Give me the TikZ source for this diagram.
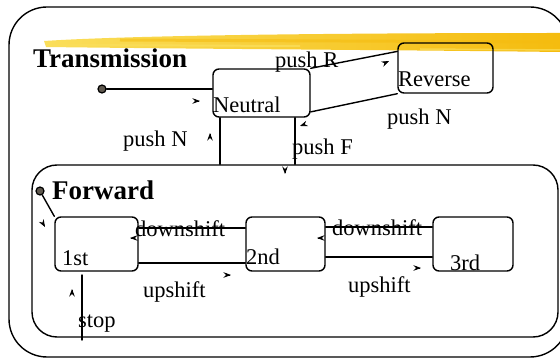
\documentclass[tikz,border=0pt]{standalone}
\usepackage{fontspec}
\setmainfont{Liberation Serif}
\usetikzlibrary{arrows.meta,calc}

\definecolor{brushlight}{RGB}{250,222,90}
\definecolor{brushdeep}{RGB}{245,188,15}
\definecolor{dotfill}{RGB}{95,88,78}

\tikzset{
  x=1pt, y=-1pt,
  line/.style={line width=1.4pt, line cap=round, line join=round},
  statebox/.style={line, draw, rounded corners=6pt, inner sep=0pt},
  lbl/.style={anchor=base west, inner sep=0pt, font=\fontsize{22.5}{26}\selectfont},
  title/.style={anchor=base west, inner sep=0pt, font=\fontsize{27}{30}\selectfont\bfseries},
  barb/.style={line width=0.7pt, -{Stealth[length=7.5pt,width=5.5pt,inset=2.5pt]}},
  startdot/.style={circle, draw, line width=1.2pt, fill=dotfill, minimum size=8pt, inner sep=0pt},
}

% small floating arrowhead: tip position, direction angle (TikZ convention, y up)
\newcommand\tipmark[2]{\draw[barb] (#1) ++(#2+180:1pt) -- (#1);}

\begin{document}
\begin{tikzpicture}
\useasboundingbox (0,0) rectangle (560,358);
\clip (0,0) rectangle (560,358);

% highlighter brush stroke across the top
\shade[left color=brushlight, right color=brushdeep]
  (44,41) .. controls (120,36) and (300,33) .. (560,33)
  -- (560,52) .. controls (400,50) and (200,49) .. (46,47) -- cycle;
\draw[brushdeep, line width=3pt, opacity=0.55] (120,40) -- (560,42);
\draw[brushlight, line width=2pt, opacity=0.8] (60,45) -- (300,46);
\draw[brushlight, line width=1.5pt, opacity=0.7] (420,49) -- (560,50);

% superstate frames
\draw[line, rounded corners=38pt] (9,7) rectangle (568,357);
\node[line, draw, rounded corners=25pt, minimum width=526pt, minimum height=172pt,
      inner sep=0pt] (forward) at (295,251) {};

% states
\node[statebox, minimum width=97pt, minimum height=48pt] (neutral) at (261.5,93) {};
\node[statebox, minimum width=95pt, minimum height=50pt] (reverse) at (445.5,68) {};
\node[statebox, minimum width=83pt, minimum height=54pt] (first)   at (96.5,244) {};
\node[statebox, minimum width=79pt, minimum height=54pt] (second)  at (285.5,244) {};
\node[statebox, minimum width=80pt, minimum height=54pt] (third)   at (473,244) {};

% initial pseudo-states
\node[startdot] (tdot) at (102,89) {};
\node[startdot] (fdot) at (40,191) {};

% state names
\node[lbl] (tneutral) at (213,113) {Neutral};
\node[lbl] (treverse) at (398,87) {Reverse};
\node[lbl] (tfirst)   at (62,266) {1st};
\node[lbl] (tsecond)  at (246,265) {2nd};
\node[lbl] (tthird)   at (450,271) {3rd};
\node[title] (ttrans) at (33,68) {Transmission};
\node[title] (tfwd)   at (52,200) {Forward};

% connector end points off the state borders
\coordinate (nl) at ([xshift=-41.5pt]neutral.south);
\coordinate (nr) at ([xshift=33.5pt]neutral.south);
\coordinate (stopa) at (82,275);
\coordinate (stopb) at (82,340);

% transitions
\draw[line] (tdot) -- (tdot -| neutral.west);
\draw[line] (neutral.north east) -- (reverse.161);
\draw[line] (neutral.-21) -- (reverse.south west);
\draw[line] (nl) -- (nl |- forward.north);
\draw[line] (nr) -- (nr |- forward.north);
\draw[line] (fdot) -- (first.north west);
\draw[line] ([yshift=16pt]first.east) -- ([yshift=16pt]second.west);
\draw[line] ([yshift=-19pt]first.east) -- ([yshift=-19pt]second.west);
\draw[line] ([yshift=17pt]second.east) -- ([yshift=17pt]third.west);
\draw[line] ([yshift=-13pt]second.east) -- ([yshift=-13pt]third.west);
\draw[line] (stopa) -- (stopb);

% transition labels
\node[lbl] (lpr)  at (275,68)  {push R};
\node[lbl] (lpn1) at (387,125) {push N};
\node[lbl] (lpn2) at (123,147) {push N};
\node[lbl] (lpf)  at (292,155) {push F};
\node[lbl] (ld1)  at (135,237) {downshift};
\node[lbl] (ld2)  at (332,236) {downshift};
\node[lbl] (lu1)  at (143,298) {upshift};
\node[lbl] (lu2)  at (348,293) {upshift};
\node[lbl] (lst)  at (78,327)  {stop};

% arrowheads
\tipmark{200,101}{0}
\tipmark{210,133}{90}
\tipmark{389,61}{25}
\tipmark{300,126}{200}
\tipmark{285,174}{-90}
\tipmark{45,227}{-60}
\tipmark{130,238}{180}
\tipmark{231,275}{0}
\tipmark{317,238}{180}
\tipmark{421,268}{0}
\tipmark{72,289}{90}
\end{tikzpicture}
\end{document}
